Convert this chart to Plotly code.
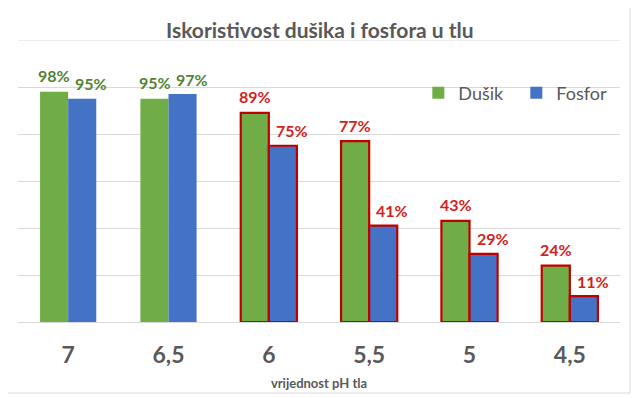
import plotly.graph_objects as go

categories = ["7", "6,5", "6", "5,5", "5", "4,5"]
dusik = [98, 95, 89, 77, 43, 24]
fosfor = [95, 97, 75, 41, 29, 11]
highlighted = [False, False, True, True, True, True]
y_max = 120

GREEN = "#70AD47"
BLUE = "#4472C4"
RED = "#C00000"
LABEL_GREEN = "#548235"
LABEL_RED = "#D42222"
GRAY = "#595959"
GRID = "#D9D9D9"
FONT = "Lato"

line_colors_g = [RED if h else GREEN for h in highlighted]
line_colors_b = [RED if h else BLUE for h in highlighted]
line_widths = [2.2 if h else 0 for h in highlighted]

fig = go.Figure()
fig.add_trace(go.Bar(name="Dušik", x=categories, y=dusik,
                     marker=dict(color=GREEN, line=dict(color=line_colors_g, width=line_widths))))
fig.add_trace(go.Bar(name="Fosfor", x=categories, y=fosfor,
                     marker=dict(color=BLUE, line=dict(color=line_colors_b, width=line_widths))))

annotations = []
for i, (g, b, h) in enumerate(zip(dusik, fosfor, highlighted)):
    col = LABEL_RED if h else LABEL_GREEN
    annotations.append(dict(x=i, y=g, xref="x", yref="y", text=f"<b>{g}%</b>",
                            showarrow=False, xshift=-14, yshift=16, yanchor="middle",
                            font=dict(family=FONT, size=16, color=col)))
    annotations.append(dict(x=i, y=b, xref="x", yref="y", text=f"<b>{b}%</b>",
                            showarrow=False, xshift=23, yshift=15, yanchor="middle",
                            font=dict(family=FONT, size=16, color=col)))

# plot area in page pixels: x 18..620, y 40..322 (page body has an 8px margin)
annotations.append(dict(x=(320 - 18) / 602, y=(322 - 29) / 282, xref="paper", yref="paper",
                        yanchor="middle", text="<b>Iskoristivost dušika i fosfora u tlu</b>",
                        showarrow=False, font=dict(family=FONT, size=21, color=GRAY)))

fig.update_layout(
    width=632, height=390,
    margin=dict(l=10, r=20, t=32, b=76, autoexpand=False),
    paper_bgcolor="white", plot_bgcolor="white",
    barmode="group", bargap=0.44, bargroupgap=0,
    font=dict(family=FONT, color=GRAY),
    annotations=annotations,
    legend=dict(orientation="h", x=0.665, y=0.812, xanchor="left", yanchor="middle",
                entrywidth=53, entrywidthmode="pixels",
                font=dict(family=FONT, size=18, color=GRAY), bgcolor="rgba(0,0,0,0)"),
    xaxis=dict(type="category", range=[-0.5, len(categories) - 0.5],
               showgrid=False, showline=False, ticks="",
               tickfont=dict(family=FONT, size=23, color=GRAY),
               tickprefix="<b>", ticksuffix="</b>",
               ticklabelstandoff=17,
               title=dict(text="<b>vrijednost pH tla</b>", standoff=11,
                          font=dict(family=FONT, size=13, color=GRAY))),
    yaxis=dict(range=[0, y_max], tick0=0, dtick=20, showticklabels=False, showgrid=True,
               gridcolor=GRID, gridwidth=1, zeroline=True, zerolinecolor=GRID,
               zerolinewidth=1, showline=False, fixedrange=True),
    shapes=[
        dict(type="rect", xref="paper", yref="paper",
             x0=-11 / 602, x1=612 / 602, y0=-71 / 282, y1=317 / 282,
             line=dict(color=GRID, width=1), layer="below"),
        dict(type="line", xref="paper", yref="y", x0=0, x1=1, y0=y_max, y1=y_max,
             line=dict(color=GRID, width=1), layer="below"),
    ],
)

fig.write_html("out.html")
